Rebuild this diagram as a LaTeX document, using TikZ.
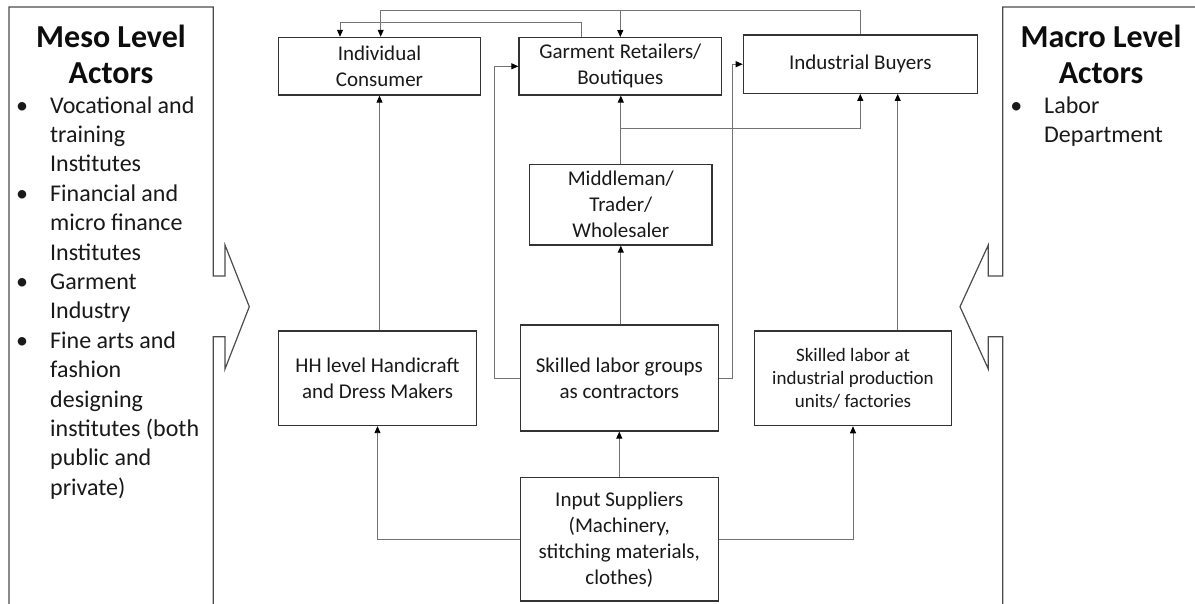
\documentclass[tikz,border=0pt]{standalone}
\usepackage{fontspec}
\setmainfont{Carlito}
\usetikzlibrary{arrows.meta}

% bullet hung to the left of an item's first line
\newcommand\itemdot{\llap{\textbullet\hspace{22pt}}}

\tikzset{
  box/.style={draw=black!80, line width=1.2pt, inner sep=0pt, align=center,
    text=black!90, font=\fontsize{21}{26}\selectfont},
  smallbox/.style={box, font=\fontsize{19}{23.3}\selectfont},
  conn/.style={draw=black!55, line width=0.9pt},
  flow/.style={conn, -{Triangle[length=7pt,width=6pt,color=black]}},
  panel/.style={draw=black!70, line width=1.2pt, line join=miter},
  paneltitle/.style={anchor=base, inner sep=0pt, text=black!95,
    font=\bfseries\fontsize{32}{36.5}\selectfont},
  paneltext/.style={anchor=base west, inner sep=0pt, text=black!90,
    font=\fontsize{24}{29.4}\selectfont}
}

\begin{document}
\begin{tikzpicture}[x=1pt, y=-1pt]
  \useasboundingbox (0,0) rectangle (1195,603);
  \fill[white] (0,0) rectangle (1195,603);
  \clip (0,0) rectangle (1195,603);

  % ---- side panels with their block arrows ----
  \draw[panel] (9,610) -- (9,7) -- (213.3,7) -- (213.3,276) -- (225,276)
    -- (225,245) -- (249.3,306.7) -- (225,369) -- (225,336.7)
    -- (213.3,336.7) -- (213.3,610);
  \draw[panel] (1200,7) -- (1002.7,7) -- (1002.7,276) -- (988.3,276)
    -- (988.3,245) -- (960,306.7) -- (988.3,369) -- (988.3,336.7)
    -- (1002.7,336.7) -- (1002.7,610);

  \node[paneltitle] (mesotitle) at (111,47)
    {\begin{tabular}[t]{@{}c@{}}Meso Level\\Actors\end{tabular}};
  \node[paneltext] (mesolist) at (50,113)
    {\begin{tabular}[t]{@{}l@{}}
      \itemdot Vocational and\\ training\\ Institutes\\
      \itemdot Financial and\\ micro finance\\ Institutes\\
      \itemdot Garment\\ Industry\\
      \itemdot Fine arts and\\ fashion\\ designing\\ institutes (both\\
      public and\\ private)
    \end{tabular}};

  \node[paneltitle] (macrotitle) at (1101,47)
    {\begin{tabular}[t]{@{}c@{}}Macro Level\\Actors\end{tabular}};
  \node[paneltext] (macrolist) at (1044,113)
    {\begin{tabular}[t]{@{}l@{}}\itemdot Labor\\ Department\end{tabular}};

  % ---- value chain actors ----
  \node[box, minimum width=202.4pt, minimum height=57.7pt] (ic) at (379.5,66.2)
    {Individual\\Consumer};
  \node[box, minimum width=202.7pt, minimum height=57.3pt] (gr) at (620.3,66.3)
    {Garment Retailers/\\Boutiques};
  \node[box, minimum width=234pt, minimum height=58.3pt] (ib) at (860.3,64.2)
    {Industrial Buyers};
  \node[box, minimum width=182.2pt, minimum height=80.7pt] (mw) at (620.8,204.7)
    {Middleman/\\Trader/\\Wholesaler};
  \node[box, minimum width=198.5pt, minimum height=94.5pt] (hh) at (377.5,378.3)
    {HH level Handicraft\\and Dress Makers};
  \node[box, minimum width=198.2pt, minimum height=106pt] (sg) at (619.3,378)
    {Skilled labor groups\\as contractors};
  \node[smallbox, minimum width=197.5pt, minimum height=94.7pt] (si) at (853,378.3)
    {Skilled labor at\\industrial production\\units/ factories};
  \node[box, minimum width=198.2pt, minimum height=123.7pt] (is) at (619.3,539.2)
    {Input Suppliers\\(Machinery,\\stitching materials,\\clothes)};

  % ---- flows ----
  \draw[flow] (ic.south |- hh.north) -- (ic.south);
  \draw[flow] (mw.south |- sg.north) -- (mw.south);
  \draw[flow] (mw.north) -- (mw.north |- gr.south);
  \path (mw.north) ++(0,-35.4) coordinate (branch);
  \draw[flow] (branch) -| (ib.south);
  \coordinate (siup) at ([xshift=44.7pt]si.north);
  \draw[flow] (siup) -- (siup |- ib.south);
  \draw[flow] (is.north) -- (is.north |- sg.south);
  \draw[flow] (is.west) -| (hh.south);
  \draw[flow] (is.east) -| (si.south);
  \draw[flow] (sg.west) -- ++(-25.2,0) |- (gr.west);
  \draw[flow] (sg.east) -- ++(13,0) |- (ib.west);

  \coordinate (grtop) at ([xshift=-39.3pt]gr.north);
  \coordinate (icleft) at ([xshift=-39.5pt]ic.north);
  \coordinate (icright) at ([xshift=1.2pt]ic.north);
  \draw[flow] (grtop) -- ++(0,-15) -| (icleft);
  \path (ib.north) ++(0,-24) coordinate (ibtop);
  \draw[flow] (ib.north) -- (ibtop) -| (icright);
  \draw[flow] (ibtop -| gr.north) -- (gr.north);
\end{tikzpicture}
\end{document}
